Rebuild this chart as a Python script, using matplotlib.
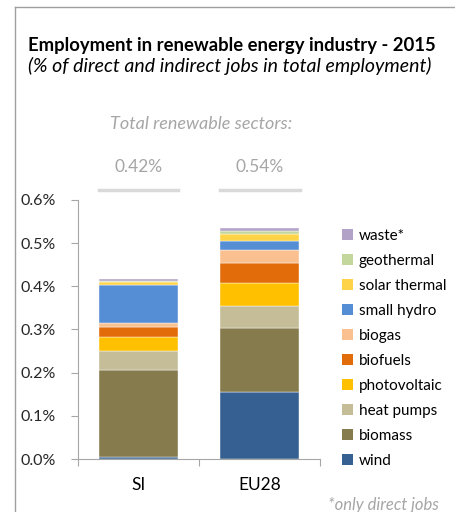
import matplotlib.pyplot as plt
from matplotlib.lines import Line2D
from matplotlib.patches import Patch
from matplotlib.transforms import blended_transform_factory

plt.rcParams['font.family'] = ['Lato', 'DejaVu Sans']

regions = ['SI', 'EU28']
totals = [0.42, 0.54]

# stacked from bottom to top, % of total employment
sectors = ['wind', 'biomass', 'heat pumps', 'photovoltaic', 'biofuels',
           'biogas', 'small hydro', 'solar thermal', 'geothermal', 'waste*']
si_values = [0.005, 0.200, 0.044, 0.034, 0.022, 0.010, 0.087, 0.007, 0.003, 0.005]
eu_values = [0.156, 0.148, 0.051, 0.052, 0.047, 0.029, 0.022, 0.016, 0.007, 0.007]

colors = ['#376092', '#857b4d', '#c4bd97', '#ffc000', '#e36c0a',
          '#fac090', '#558ed5', '#ffd347', '#c3d69b', '#b3a2c7']

fig = plt.figure(figsize=(4.56, 5.12), dpi=100)
ax = fig.add_axes([0.171, 0.1035, 0.531, 0.506])

bottom = [0.0, 0.0]
for i, name in enumerate(sectors):
    vals = [si_values[i], eu_values[i]]
    ax.bar([0, 1], vals, width=0.65, bottom=bottom, color=colors[i],
           edgecolor='white', linewidth=0.3, label=name)
    bottom = [bottom[0] + vals[0], bottom[1] + vals[1]]

ax.set_xlim(-0.5, 1.5)
ax.set_ylim(0, 0.6)
ax.set_yticks([0, 0.1, 0.2, 0.3, 0.4, 0.5, 0.6])
ax.set_yticklabels([f'{v:.1f}%' for v in [0, 0.1, 0.2, 0.3, 0.4, 0.5, 0.6]])
ax.set_xticks([0, 1])
ax.set_xticklabels(regions)
ax.set_xticks([-0.5, 0.5, 1.5], minor=True)
ax.tick_params(axis='x', which='major', length=0, pad=13, labelsize=12.5, colors='#000000')
ax.tick_params(axis='x', which='minor', length=5, color='#a6a6a6', width=0.8)
ax.tick_params(axis='y', length=5, color='#a6a6a6', width=0.8, labelsize=11.5,
               labelcolor='#262626', pad=11)
for s in ['top', 'right']:
    ax.spines[s].set_visible(False)
for s in ['left', 'bottom']:
    ax.spines[s].set_color('#a6a6a6')
    ax.spines[s].set_linewidth(0.8)

handles = [Patch(facecolor=colors[i], label=sectors[i]) for i in range(len(sectors))][::-1]
fig.legend(handles=handles, loc='upper left', bbox_to_anchor=(0.733, 0.568),
           frameon=False, fontsize=11, handlelength=0.7, handleheight=0.7,
           handletextpad=0.4, labelspacing=0.72, borderpad=0)

# totals above the bars
tr = blended_transform_factory(ax.transData, fig.transFigure)
for i, t in enumerate(totals):
    ax.text(i, 0.674, f'{t:.2f}%', ha='center', va='center', fontsize=12.5,
            color='#a6a6a6', transform=tr)
    ax.add_line(Line2D([i - 0.33, i + 0.33], [0.629, 0.629], color='#d9d9d9', lw=2.5,
                       transform=tr, clip_on=False))
fig.text(0.441, 0.758, 'Total renewable sectors:', ha='center', va='center',
         fontsize=13, style='italic', color='#a6a6a6')

fig.text(0.061, 0.911, 'Employment in renewable energy industry - 2015', ha='left',
         va='center', fontsize=13.3, fontweight='bold', color='#000000')
fig.text(0.061, 0.871, '(% of direct and indirect jobs in total employment)', ha='left',
         va='center', fontsize=14, style='italic', color='#000000')
fig.text(0.72, 0.014, '*only direct jobs', ha='left', va='center', fontsize=12,
         style='italic', color='#a6a6a6')

# chart frame
fig.add_artist(Line2D([0.033, 0.033], [0.0, 0.986], color='#a0a0a0', lw=1.0))
fig.add_artist(Line2D([0.033, 1.0], [0.986, 0.986], color='#a0a0a0', lw=1.0))

fig.savefig('out.png', dpi=100)
